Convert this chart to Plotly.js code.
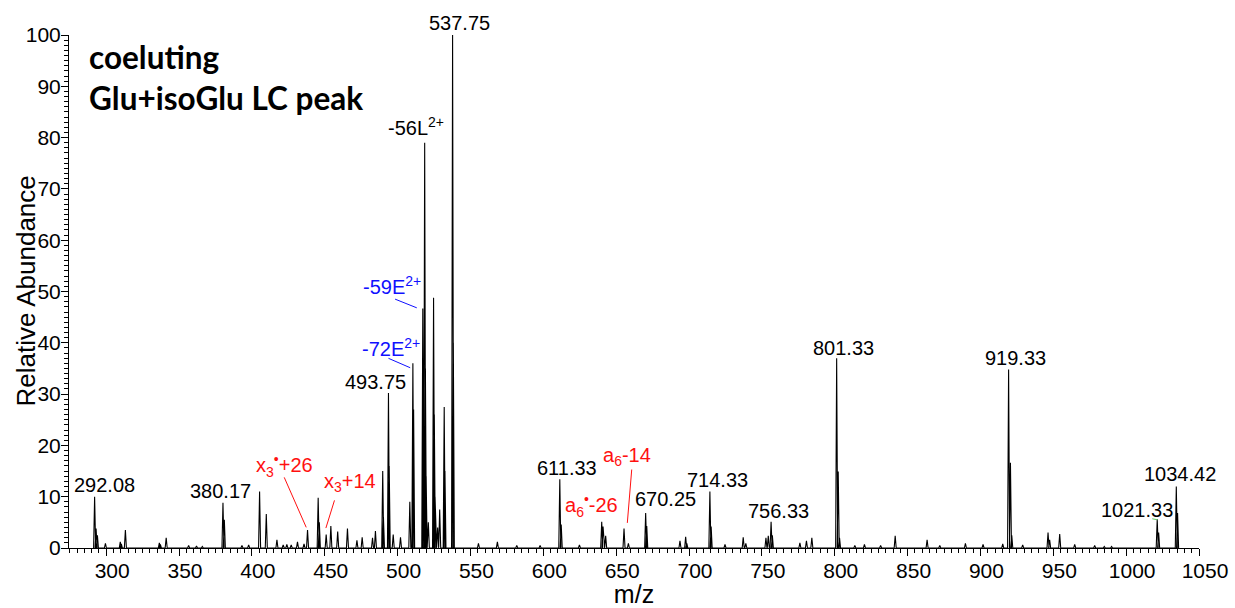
<!DOCTYPE html>
<html><head><meta charset="utf-8">
<script src="https://cdn.plot.ly/plotly-3.0.1.min.js"></script>
<style>html,body{margin:0;padding:0;background:#fff}#chart{width:1235px;height:608px}</style>
</head><body><div id="chart"></div>
<script>
// ---- spectrum data: peak m/z and relative abundance ----
const peakMz = [292.08,293.1,294.0,299.5,309.7,310.4,313.2,336.5,337.2,341.2,356.6,362.0,366.0,
  380.17,381.1,393.2,397.8,405.3,409.9,417.2,421.5,424.0,427.0,431.3,435.8,438.2,445.5,446.3,
  451.0,454.2,458.9,465.6,472.1,475.7,482.8,484.8,489.8,490.3,493.75,494.25,497.0,502.0,508.4,
  510.5,511.0,517.3,517.8,518.6,519.1,519.6,521.1,524.7,525.2,525.7,527.5,528.9,532.0,532.5,
  537.75,538.25,555.5,568.5,581.8,597.8,611.33,612.3,624.8,640.1,641.0,642.8,655.4,658.4,
  670.25,671.0,693.8,697.7,698.5,714.33,715.2,724.7,737.2,739.0,752.8,754.4,756.33,757.2,
  776.1,780.6,784.3,801.33,802.4,803.3,813.8,820.4,831.5,841.5,863.4,872.1,889.7,901.8,915.3,
  919.33,920.6,921.5,929.0,946.4,947.5,954.4,964.7,978.4,985.0,990.0,1021.33,1022.3,1034.42,1035.3];
const peakInt = [10.0,3.8,2.5,0.9,1.2,0.8,3.5,1.0,0.7,2.0,0.5,0.4,0.3,
  8.8,5.5,0.5,0.6,11.0,6.6,1.6,0.6,0.7,0.6,1.2,0.8,3.5,9.8,5.0,
  2.6,4.3,3.2,3.8,1.5,2.1,2.0,3.3,15.0,6.0,30.2,16.0,2.6,2.1,9.0,
  36.0,27.0,46.7,30.0,79.0,35.0,14.0,5.0,48.8,26.0,10.0,4.0,7.5,27.5,15.0,
  100,40,0.9,1.2,0.5,0.5,13.4,4.6,0.6,5.1,4.2,2.4,3.8,0.9,
  6.8,4.3,1.4,2.2,0.9,11.0,4.2,0.7,2.1,0.9,2.0,2.4,5.1,2.5,
  1.0,1.4,2.0,37.0,14.9,2.0,0.5,0.7,0.5,2.4,1.6,0.5,0.9,0.7,0.8,
  34.8,16.6,2.5,0.6,3.0,1.6,2.7,0.7,0.5,0.3,0.3,5.6,3.0,12.0,6.8];

// ---- peak labels ----
const blackLabelText = ['292.08','380.17','493.75','537.75','-56L<sup>2+</sup>','611.33','670.25','714.33','756.33','801.33','919.33','1021.33','1034.42'];
const blackLabelMz   = [292.08,380.17,493.75,537.75,518.6,611.33,670.25,714.33,756.33,801.33,919.33,1021.33,1034.42];
const blueLabelText  = ['-59E<sup>2+</sup>','-72E<sup>2+</sup>'];
const blueLabelMz    = [517.3,510.5];
const redLabelText   = ['x<sub>3</sub><sup>•</sup>+26','x<sub>3</sub>+14','a<sub>6</sub><sup>•</sup>-26','a<sub>6</sub>-14'];
const redLabelMz     = [438.2,451.0,640.1,655.4];

const xTickVals = [300,350,400,450,500,550,600,650,700,750,800,850,900,950,1000,1050];
const yTickVals = [0,10,20,30,40,50,60,70,80,90,100];

// ---- styling / placement (pixels) ----
const blackOffsets = [[10,12],[-2,11.6],[-13,10.6],[7,12.3],[-9,16],[7,11],[19.6,14],[7.5,11.7],[7,10.7],[7,10],[7,11],[-20,9.3],[3.3,12.7]];
const blueOffsets  = [[-30.7,23],[-21.7,16.3]];
const redOffsets   = [[-23.3,65],[24,52.6],[-10.2,16.7],[3,71.6]];
// leader lines: [anchor mz, x0,y0,x1,y1 (px, up positive), color]
const leaders = [
  [517.3,-27.7,9.3,-6,0.6,'#1010ff'],
  [510.5,-24.4,5,-2.7,-4.4,'#1010ff'],
  [438.2,-23.3,52.7,-1.3,2.7,'#ff1010'],
  [451.0,8.3,34.3,-0.3,6.6,'#ff1010'],
  [655.4,7.7,59,3.3,5.6,'#ff1010'],
  [1021.33,-5,0.5,0.3,-0.5,'#66cc66']
];
const FONT = 'Liberation Sans, Arial, sans-serif';
const HW = 0.7;

function peakHeight(m){
  let best=0, d=Infinity;
  peakMz.forEach((v,i)=>{ const dd=Math.abs(v-m); if(dd<d){d=dd;best=i;} });
  return peakInt[best];
}

const xs=[], ys=[];
peakMz.forEach((m,i)=>{ xs.push(m-HW, m, m+HW); ys.push(0, peakInt[i], 0); });

const trace = {x:xs, y:ys, type:'scatter', mode:'lines', line:{color:'#000', width:1.1}, hoverinfo:'skip'};

const annotations = [];
function addLabels(texts, mzs, offs, color){
  texts.forEach((t,i)=>{
    annotations.push({x:mzs[i], y:peakHeight(mzs[i]), xref:'x', yref:'y', text:t, showarrow:false,
      xanchor:'center', yanchor:'middle', xshift:offs[i][0], yshift:offs[i][1],
      font:{family:FONT, size:20, color:color}});
  });
}
addLabels(blackLabelText, blackLabelMz, blackOffsets, '#000');
addLabels(blueLabelText, blueLabelMz, blueOffsets, '#1010ff');
addLabels(redLabelText, redLabelMz, redOffsets, '#ff1010');

annotations.push({xref:'paper', yref:'paper', x:0, y:0.957, xshift:18, xanchor:'left', yanchor:'middle', showarrow:false,
  text:'<b>coeluting</b>', font:{family:'Lato, sans-serif', size:31.5, color:'#000'}});
annotations.push({xref:'paper', yref:'paper', x:0, y:0.877, xshift:18, xanchor:'left', yanchor:'middle', showarrow:false,
  text:'<b>Glu+isoGlu LC peak</b>', font:{family:'Lato, sans-serif', size:31.5, color:'#000'}});
annotations.push({xref:'paper', yref:'paper', x:0, y:0.5, xshift:-44, xanchor:'center', yanchor:'middle', showarrow:false,
  textangle:-90, text:'Relative Abundance', font:{family:FONT, size:26, color:'#000'}});

const shapes = leaders.map(l=>({type:'line', xref:'x', yref:'y', xsizemode:'pixel', ysizemode:'pixel',
  xanchor:l[0], yanchor:peakHeight(l[0]), x0:l[1], y0:l[2], x1:l[3], y1:l[4], line:{color:l[5], width:1}}));

const layout = {
  width:1235, height:608,
  margin:{l:69, r:36, t:35, b:60},
  paper_bgcolor:'#fff', plot_bgcolor:'#fff',
  showlegend:false,
  font:{family:FONT, color:'#000'},
  xaxis:{range:[274.5,1050], tickvals:xTickVals, ticks:'outside', ticklen:7, tickwidth:1, tickcolor:'#000',
    showline:true, linecolor:'#000', linewidth:1, showgrid:false, zeroline:false,
    ticklabelshift:6, ticklabelstandoff:-3,
    tickfont:{family:FONT, size:21, color:'#000'},
    minor:{dtick:5, tick0:300, ticks:'outside', ticklen:4, tickwidth:1, tickcolor:'#000', showgrid:false},
    title:{text:'m/z', font:{family:FONT, size:25, color:'#000'}, standoff:6}},
  yaxis:{range:[0,100], tickvals:yTickVals, ticks:'outside', ticklen:7, tickwidth:1, tickcolor:'#000',
    showline:true, linecolor:'#000', linewidth:1, showgrid:false, zeroline:false,
    ticklabelstandoff:-4,
    tickfont:{family:FONT, size:21, color:'#000'},
    minor:{dtick:1, tick0:0, ticks:'outside', ticklen:4, tickwidth:1, tickcolor:'#000', showgrid:false}},
  annotations:annotations,
  shapes:shapes
};
Plotly.newPlot('chart', [trace], layout, {staticPlot:true, displayModeBar:false});
</script>
</body></html>
